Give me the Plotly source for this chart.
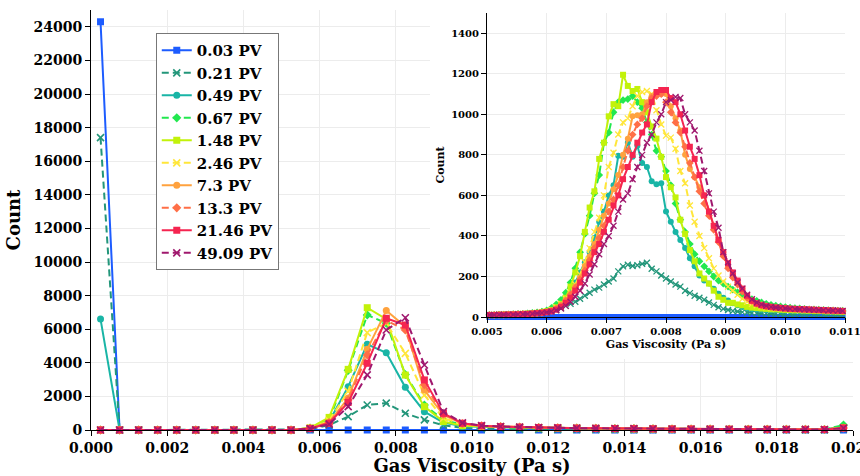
import plotly.graph_objects as go

# ---------------- data ----------------
labels = ["0.03 PV", "0.21 PV", "0.49 PV", "0.67 PV", "1.48 PV",
          "2.46 PV", "7.3 PV", "13.3 PV", "21.46 PV", "49.09 PV"]
colors = ["#1d5cff", "#23967a", "#19b5a6", "#22e84f", "#c2f20a",
          "#ffe63a", "#ffa23e", "#ff6f47", "#f52550", "#a0186e"]
symbols = ["square", "x-thin", "circle", "diamond", "square",
           "x-thin", "circle", "diamond", "square", "x-thin"]
dashes = ["solid", "7px,4px", "solid", "7px,4px", "solid",
          "7px,4px", "solid", "7px,4px", "solid", "7px,4px"]

main_xticks = [0.0, 0.002, 0.004, 0.006, 0.008, 0.010, 0.012, 0.014, 0.016, 0.018, 0.020]
inset_xticks = [0.005, 0.006, 0.007, 0.008, 0.009, 0.010, 0.011]

# main histogram: 40 bins of width 0.0005 on [0, 0.02]
main_x = [round(0.00025 + 0.0005 * i, 5) for i in range(40)]
main_y = {
    "0.03 PV": [24300, 0, 0, 0, 0, 0, 0, 0, 0, 0, 0, 0, 0, 0, 0, 0, 0, 0, 0, 0,
                0, 0, 0, 0, 0, 0, 0, 0, 0, 0, 0, 0, 0, 0, 0, 0, 0, 0, 0, 0],
    "0.21 PV": [17400, 0, 0, 0, 0, 0, 0, 0, 0, 0, 0, 40, 300, 800, 1490, 1600, 1000, 600, 280, 120,
                80, 60, 50, 45, 40, 35, 30, 28, 25, 22, 20, 18, 16, 15, 14, 13, 12, 11, 10, 60],
    "0.49 PV": [6600, 0, 0, 0, 0, 0, 0, 0, 0, 0, 0, 100, 500, 2580, 5100, 4600, 2540, 1090, 440, 220,
                180, 160, 140, 120, 110, 100, 90, 80, 70, 60, 55, 50, 45, 40, 40, 35, 35, 30, 30, 220],
    "0.67 PV": [0, 0, 0, 0, 0, 0, 0, 0, 0, 0, 0, 120, 600, 3550, 6850, 6350, 3300, 1490, 600, 300,
                220, 190, 160, 140, 120, 110, 100, 90, 80, 70, 60, 55, 50, 45, 40, 40, 35, 35, 30, 300],
    "1.48 PV": [0, 0, 0, 0, 0, 0, 0, 0, 0, 0, 0, 120, 750, 3610, 7280, 6600, 3270, 1390, 500, 260,
                200, 180, 150, 130, 115, 100, 90, 80, 70, 60, 55, 50, 45, 40, 40, 35, 35, 30, 30, 150],
    "2.46 PV": [0, 0, 0, 0, 0, 0, 0, 0, 0, 0, 0, 110, 550, 2300, 5800, 6350, 4560, 2080, 700, 350,
                230, 200, 170, 150, 130, 110, 100, 90, 80, 70, 60, 55, 50, 45, 40, 40, 35, 35, 30, 130],
    "7.3 PV": [0, 0, 0, 0, 0, 0, 0, 0, 0, 0, 0, 100, 450, 1900, 4800, 7110, 6150, 2380, 890, 380,
               240, 200, 170, 150, 130, 110, 100, 90, 80, 70, 60, 55, 50, 45, 40, 40, 35, 35, 30, 120],
    "13.3 PV": [0, 0, 0, 0, 0, 0, 0, 0, 0, 0, 0, 100, 450, 1800, 4470, 6520, 5955, 2700, 950, 390,
                250, 200, 170, 150, 130, 110, 100, 90, 80, 70, 60, 55, 50, 45, 40, 40, 35, 35, 30, 120],
    "21.46 PV": [0, 0, 0, 0, 0, 0, 0, 0, 0, 0, 0, 90, 400, 1640, 3970, 6650, 6250, 2980, 990, 400,
                 250, 200, 170, 150, 130, 110, 100, 90, 80, 70, 60, 55, 50, 45, 40, 40, 35, 35, 30, 120],
    "49.09 PV": [0, 0, 0, 0, 0, 0, 0, 0, 0, 0, 0, 80, 350, 1390, 3280, 5955, 6680, 3870, 1090, 420,
                 260, 210, 175, 150, 130, 110, 100, 90, 80, 70, 60, 55, 50, 45, 40, 40, 35, 35, 30, 110],
}

# inset histogram: bins of width 0.00008, centres from 0.00504 to 0.01096
inset_x = [round(0.00504 + 0.00008 * k, 5) for k in range(75)]
inset_y = {
    "0.03 PV": [0, 0, 0, 0, 0, 0, 0, 0, 0, 0, 0, 0, 0, 0, 0, 0, 0, 0, 0, 0,
                0, 0, 0, 0, 0, 0, 0, 0, 0, 0, 0, 0, 0, 0, 0, 0, 0, 0, 0, 0,
                0, 0, 0, 0, 0, 0, 0, 0, 0, 0, 0, 0, 0, 0, 0, 0, 0, 0, 0, 0,
                0, 0, 0, 0, 0, 0, 0, 0, 0, 0, 0, 0, 0, 0, 0],
    "0.21 PV": [8, 8, 9, 9, 10, 10, 11, 12, 13, 14, 16, 18, 22, 28, 35, 45, 55, 65, 75, 90,
                105, 120, 135, 145, 160, 175, 190, 225, 250, 258, 252, 255, 262, 268, 238, 225, 205, 190, 175, 160,
                150, 130, 118, 105, 95, 85, 72, 60, 48, 40, 35, 30, 27, 24, 22, 20, 19, 18, 17, 16,
                15, 15, 14, 14, 13, 13, 12, 12, 12, 11, 11, 11, 10, 10, 10],
    "0.49 PV": [10, 10, 11, 11, 12, 13, 14, 15, 16, 18, 20, 22, 25, 30, 45, 70, 95, 125, 170, 220,
                270, 320, 390, 470, 520, 600, 650, 795, 790, 860, 790, 845, 760, 740, 670, 655, 660, 520, 470, 420,
                380, 340, 290, 250, 205, 180, 165, 140, 115, 95, 82, 68, 58, 50, 45, 40, 38, 36, 35, 34,
                33, 32, 32, 31, 30, 30, 29, 28, 28, 27, 27, 26, 26, 25, 25],
    "0.67 PV": [11, 11, 12, 12, 13, 14, 15, 16, 18, 20, 23, 27, 33, 45, 62, 85, 120, 170, 240, 320,
                410, 500, 610, 700, 860, 910, 1010, 1060, 1070, 1075, 1090, 1060, 1030, 960, 900, 820, 790, 720, 650, 560,
                480, 420, 360, 310, 275, 250, 225, 200, 180, 165, 150, 135, 122, 110, 98, 88, 80, 72, 65, 60,
                56, 52, 49, 46, 44, 42, 40, 38, 37, 36, 35, 34, 33, 32, 31],
    "1.48 PV": [10, 10, 11, 12, 12, 13, 14, 15, 16, 18, 20, 23, 28, 35, 48, 65, 95, 150, 220, 300,
                420, 540, 620, 780, 860, 990, 1050, 1040, 1195, 1140, 1115, 1125, 1060, 1010, 940, 880, 790, 690, 640, 590,
                480, 410, 330, 275, 215, 190, 165, 130, 100, 85, 70, 70, 62, 58, 50, 46, 44, 42, 40, 38,
                38, 36, 35, 34, 33, 33, 32, 31, 30, 30, 29, 28, 28, 27, 26],
    "2.46 PV": [10, 11, 11, 12, 13, 14, 15, 16, 17, 19, 21, 24, 28, 35, 48, 65, 90, 120, 160, 210,
                270, 340, 420, 490, 600, 740, 810, 900, 960, 980, 1040, 1090, 1110, 1115, 1100, 1020, 950, 895, 885, 830,
                720, 660, 550, 470, 400, 340, 290, 240, 205, 175, 150, 130, 110, 90, 75, 65, 58, 52, 48, 45,
                43, 41, 40, 38, 37, 36, 35, 34, 33, 32, 31, 30, 30, 29, 28],
    "7.3 PV": [10, 10, 11, 11, 12, 13, 14, 15, 16, 17, 19, 22, 26, 32, 45, 60, 85, 115, 150, 195,
               250, 300, 360, 430, 500, 560, 630, 700, 800, 880, 990, 995, 1000, 1060, 1090, 1100, 1110, 1100, 1040, 980,
               920, 800, 730, 690, 640, 600, 520, 450, 380, 320, 250, 210, 170, 140, 105, 82, 68, 60, 55, 50,
               47, 44, 42, 40, 39, 38, 37, 36, 35, 34, 33, 32, 31, 30, 29],
    "13.3 PV": [10, 10, 11, 11, 12, 13, 14, 15, 16, 17, 19, 21, 25, 30, 40, 55, 80, 110, 145, 185,
                230, 280, 340, 390, 450, 520, 580, 650, 740, 820, 900, 950, 980, 1040, 1080, 1090, 1100, 1060, 1010, 960,
                910, 840, 760, 690, 620, 560, 500, 430, 370, 300, 240, 195, 160, 125, 95, 78, 66, 58, 53, 49,
                46, 44, 42, 40, 39, 38, 37, 36, 35, 34, 33, 32, 31, 30, 29],
    "21.46 PV": [10, 10, 11, 11, 12, 12, 13, 14, 15, 17, 19, 21, 24, 28, 36, 50, 70, 95, 130, 170,
                 215, 260, 320, 360, 420, 480, 550, 600, 680, 740, 800, 860, 910, 950, 1060, 1110, 1120, 1120, 1080, 1060,
                 1000, 920, 840, 780, 700, 600, 520, 450, 380, 320, 265, 220, 180, 140, 105, 80, 66, 58, 53, 50,
                 47, 45, 43, 41, 40, 39, 38, 37, 36, 35, 34, 33, 32, 31, 30],
    "49.09 PV": [10, 10, 11, 11, 12, 12, 13, 14, 15, 16, 18, 20, 23, 27, 33, 42, 55, 75, 100, 130,
                 165, 210, 260, 310, 360, 400, 450, 520, 580, 610, 680, 740, 800, 860, 900, 960, 1000, 1060, 1070, 1085,
                 1080, 1000, 960, 920, 820, 720, 610, 520, 440, 320, 270, 215, 170, 140, 110, 88, 72, 62, 55, 50,
                 47, 44, 42, 40, 39, 38, 37, 36, 35, 34, 33, 32, 32, 31, 30],
}

FONT = "DejaVu Serif"

fig = go.Figure()

for lab, col, sym, dsh in zip(labels, colors, symbols, dashes):
    lw = 1.6 if sym == "x-thin" else 0
    fig.add_trace(go.Scatter(
        x=main_x, y=main_y[lab], name=lab, mode="lines+markers",
        line=dict(color=col, width=2, dash=dsh),
        marker=dict(symbol=sym, size=7, color=col, line=dict(color=col, width=lw)),
        cliponaxis=False, xaxis="x", yaxis="y", legendgroup=lab))

# empty trace on a blank panel that hides the main grid behind the inset
fig.add_trace(go.Scatter(x=[], y=[], xaxis="x2", yaxis="y2", showlegend=False,
                         hoverinfo="skip"))

for lab, col, sym, dsh in zip(labels, colors, symbols, dashes):
    lw = 1.3 if sym == "x-thin" else 0
    fig.add_trace(go.Scatter(
        x=inset_x, y=inset_y[lab], name=lab, mode="lines+markers",
        line=dict(color=col, width=2, dash=dsh),
        marker=dict(symbol=sym, size=6, color=col, line=dict(color=col, width=lw)),
        cliponaxis=False, xaxis="x3", yaxis="y3", showlegend=False, legendgroup=lab))

axis_common = dict(showline=True, linecolor="black", linewidth=1, ticks="outside",
                   ticklen=5, tickcolor="black", showgrid=True, gridcolor="#ececec",
                   gridwidth=1, zeroline=False, automargin=False)

fig.update_layout(
    width=860, height=476,
    margin=dict(l=91, r=7, t=10, b=46),
    paper_bgcolor="white", plot_bgcolor="white",
    font=dict(family=FONT, color="black", weight="bold"),
    showlegend=True,
    legend=dict(x=0.085, y=0.945, xanchor="left", yanchor="top",
                bgcolor="white", bordercolor="#777777", borderwidth=1,
                font=dict(family=FONT, size=15, color="black", weight="bold"),
                itemwidth=30, tracegroupgap=0),
    xaxis=dict(domain=[0, 1], range=[0, 0.02], tickmode="array", tickvals=main_xticks,
               tickformat=".3f", ticklabeloverflow="allow",
               tickfont=dict(family=FONT, size=14, weight="bold"),
               title=dict(text="Gas Viscosity (Pa s)", standoff=10,
                          font=dict(family=FONT, size=18, weight="bold")),
               anchor="y", **axis_common),
    yaxis=dict(domain=[0, 1], range=[0, 25000], dtick=2000, tickformat="d",
               tickfont=dict(family=FONT, size=14, weight="bold"),
               title=dict(text="Count", standoff=8,
                          font=dict(family=FONT, size=18, weight="bold")),
               anchor="x", **axis_common),
    xaxis2=dict(domain=[0.4449, 1.0], range=[0, 1], visible=False, anchor="y2",
                fixedrange=True),
    yaxis2=dict(domain=[0.169, 1.0], range=[0, 1], visible=False, anchor="x2",
                fixedrange=True),
    xaxis3=dict(domain=[0.5197, 0.9895], range=[0.005, 0.011], tickmode="array",
                tickvals=inset_xticks, tickformat=".3f", ticklabeloverflow="allow",
                tickfont=dict(family=FONT, size=10, weight="bold"),
                title=dict(text="Gas Viscosity (Pa s)", standoff=4,
                           font=dict(family=FONT, size=11, weight="bold")),
                anchor="y3", **axis_common),
    yaxis3=dict(domain=[0.269, 0.993], range=[0, 1500], dtick=200, tickformat="d",
                tickfont=dict(family=FONT, size=10, weight="bold"),
                title=dict(text="Count", standoff=4,
                           font=dict(family=FONT, size=11, weight="bold")),
                anchor="x3", **axis_common),
)

fig.write_html("out.html")
